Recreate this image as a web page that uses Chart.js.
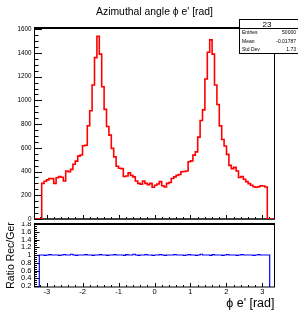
<!DOCTYPE html>
<html>
<head>
<meta charset="utf-8">
<script src="https://cdn.jsdelivr.net/npm/chart.js@4.4.1/dist/chart.umd.min.js"></script>
<style>
  html, body { margin: 0; padding: 0; background: #fff; }
  body { width: 298px; height: 311px; position: relative; overflow: hidden; font-family: 'Liberation Sans', Arial, sans-serif; }
  #ratioPad { position: absolute; left: 0; top: 222px; }
  #topPad { position: absolute; left: 0; top: 0; }
  #stats { position: absolute; left: 239px; top: 19px; width: 66px; height: 35px; box-sizing: border-box;
           border: 1px solid #000; background: #fff; color: #000; will-change: transform; }
  #stats .hdr { position: absolute; left: 0; top: 0; width: 54px; height: 8px; line-height: 9px; font-size: 8px; text-align: center; color: #000; }
  #stats .sep { position: absolute; left: 0; right: 0; top: 8px; border-top: 1px solid #000; }
  #stats .row { position: absolute; left: 2px; width: 54px; height: 7px; line-height: 7px; font-size: 5px; color: #000; }
  #stats .row span { position: absolute; left: 0; }
  #stats .row b { position: absolute; right: 0; font-weight: normal; }
</style>
</head>
<body>
<canvas id="ratioPad" width="298" height="89"></canvas>
<canvas id="topPad" width="298" height="222"></canvas>
<div id="stats">
  <div class="hdr">23</div>
  <div class="sep"></div>
  <div class="row" style="top:9px"><span>Entries</span><b>50000</b></div>
  <div class="row" style="top:17.5px"><span>Mean</span><b>-0.01787</b></div>
  <div class="row" style="top:25.5px"><span>Std Dev</span><b>1.73</b></div>
</div>
<script>
// histogram definition: 100 bins from -pi-0.2 to pi+0.2
const nBins = 100;
const xLow = -Math.PI - 0.2;
const xHigh = Math.PI + 0.2;

// phi e' counts, bins 3..96
const countsFirstBin = 3;
const counts = [
  300, 318, 330, 342, 340, 300, 348, 358, 352, 320,
  405, 398, 418, 462, 488, 530, 540, 618, 622, 786,
  912, 1129, 1360, 1540, 1390, 1115, 924, 780, 707, 595,
  524, 445, 428, 425, 358, 362, 389, 368, 355, 320,
  300, 294, 320, 300, 290, 300, 268, 285, 295, 315,
  280, 270, 300, 308, 341, 355, 368, 375, 398, 400,
  405, 482, 490, 538, 566, 690, 830, 920, 1180, 1405,
  1510, 1390, 1130, 965, 785, 670, 615, 545, 452, 425,
  435, 405, 350, 358, 335, 315, 298, 285, 272, 268,
  272, 280, 278, 270
];

// Rec/Ger ratio, bins 2..97
const ratioFirstBin = 2;
const ratio = [
  1.00, 1.00, 0.99, 1.00, 1.01, 1.00, 1.00, 1.00, 0.99, 1.00,
  1.01, 1.00, 1.00, 1.02, 1.00, 0.99, 1.00, 1.00, 1.00, 1.01,
  1.00, 1.00, 0.99, 1.00, 1.00, 1.01, 1.00, 1.00, 0.99, 1.00,
  1.00, 1.01, 1.00, 1.00, 1.00, 0.99, 1.01, 1.00, 1.00, 1.02,
  1.00, 0.99, 1.00, 1.00, 1.01, 1.00, 1.00, 0.99, 1.00, 1.00,
  1.01, 1.00, 0.99, 1.00, 1.00, 1.00, 1.01, 1.00, 1.00, 1.00,
  0.99, 1.00, 1.01, 1.00, 1.00, 0.99, 1.00, 1.02, 1.00, 1.00,
  1.00, 0.99, 1.01, 1.00, 1.00, 1.00, 0.99, 1.00, 1.01, 1.00,
  1.00, 1.00, 0.99, 1.00, 1.01, 1.00, 1.00, 1.00, 1.00, 0.99,
  1.00, 1.01, 1.00, 1.00, 1.00, 1.00
];

// tick labels
const xTicks = [-3, -2, -1, 0, 1, 2, 3];
const countTicks = [0, 200, 400, 600, 800, 1000, 1200, 1400, 1600];
const ratioTicks = [0.2, 0.4, 0.6, 0.8, 1, 1.2, 1.4, 1.6, 1.8];

const font = "'Liberation Sans', Arial, sans-serif";
Chart.defaults.font.family = font;
Chart.defaults.color = '#000';

const binW = (xHigh - xLow) / nBins;
const edge = k => xLow + k * binW;

// step outline like ROOT: zero outside the filled bins
function histPoints(values, first) {
  const pts = [{ x: xLow, y: 0 }];
  values.forEach((v, i) => pts.push({ x: edge(first + i), y: v }));
  pts.push({ x: edge(first + values.length), y: 0 });
  pts.push({ x: xHigh, y: 0 });
  return pts;
}

const useTicks = list => s => { s.ticks = list.map(v => ({ value: v })); };

// frame + inward ticks, drawn before the histogram
const rootFrame = {
  id: 'rootFrame',
  beforeDatasetsDraw(chart, args, o) {
    const { ctx, chartArea: a } = chart;
    const xs = chart.scales.x, ys = chart.scales.y;
    ctx.save();
    ctx.strokeStyle = '#000';
    ctx.lineWidth = 1;
    ctx.beginPath();
    for (let i = Math.ceil(xs.min / o.xMinor - 1e-9); i * o.xMinor <= xs.max + 1e-9; i++) {
      const v = i * o.xMinor;
      const major = Math.abs(v / o.xMajor - Math.round(v / o.xMajor)) < 1e-6;
      const px = Math.round(xs.getPixelForValue(v)) + 0.5;
      ctx.moveTo(px, a.bottom);
      ctx.lineTo(px, a.bottom - (major ? o.xLen[0] : o.xLen[1]));
    }
    for (let i = Math.ceil(ys.min / o.yMinor - 1e-9); i * o.yMinor <= ys.max + 1e-9; i++) {
      const v = i * o.yMinor;
      const major = Math.abs(v / o.yMajor - Math.round(v / o.yMajor)) < 1e-6;
      const py = Math.round(ys.getPixelForValue(v)) + 0.5;
      ctx.moveTo(a.left, py);
      ctx.lineTo(a.left + (major ? o.yLen[0] : o.yLen[1]), py);
    }
    ctx.stroke();

    ctx.beginPath();
    ctx.moveTo(a.left, a.top);
    ctx.lineTo(a.left, a.bottom);
    ctx.moveTo(a.right, a.top);
    ctx.lineTo(a.right, a.bottom);
    ctx.stroke();
    ctx.lineWidth = o.topW;
    ctx.beginPath();
    ctx.moveTo(a.left - 0.5, a.top);
    ctx.lineTo(a.right + 0.5, a.top);
    ctx.stroke();
    ctx.lineWidth = o.bottomW;
    ctx.beginPath();
    ctx.moveTo(a.left - 0.5, a.bottom);
    ctx.lineTo(a.right + 0.5, a.bottom);
    ctx.stroke();
    ctx.restore();
  }
};

const yWidth = 34.5;
const rightPad = 298 - 274.5;

const topChart = new Chart('topPad', {
  type: 'line',
  data: {
    datasets: [{
      data: histPoints(counts, countsFirstBin),
      borderColor: 'rgb(255, 0, 0)',
      borderWidth: 1.6,
      pointRadius: 0,
      stepped: true,
      fill: false
    }]
  },
  options: {
    responsive: false,
    animation: false,
    layout: { autoPadding: false, padding: { left: 0, right: rightPad, top: 2, bottom: 3 } },
    plugins: {
      legend: { display: false },
      tooltip: { enabled: false },
      title: {
        display: true,
        text: "Azimuthal angle \u03d5 e' [rad]",
        fullSize: false,
        color: '#000',
        font: { family: font, size: 10.4, weight: 'normal' },
        padding: { top: 3.5, bottom: 9.9 }
      },
      rootFrame: { xMinor: 0.2, xMajor: 1, yMinor: 50, yMajor: 200, xLen: [4, 2], yLen: [7.5, 4], topW: 2, bottomW: 1.5 }
    },
    scales: {
      x: {
        type: 'linear', min: xLow, max: xHigh,
        grid: { display: false, drawTicks: false },
        border: { display: false },
        ticks: { display: false },
        afterBuildTicks: useTicks(xTicks),
        afterFit: s => { s.height = 0; s.paddingLeft = 0; s.paddingRight = 0; }
      },
      y: {
        min: 0, max: 1611,
        grid: { display: false, drawTicks: false },
        border: { display: false },
        ticks: { autoSkip: false, padding: 3, font: { size: 6.3 }, callback: v => String(v) },
        afterBuildTicks: useTicks(countTicks),
        afterFit: s => { s.width = yWidth; s.paddingTop = 0; s.paddingBottom = 0; }
      }
    }
  },
  plugins: [rootFrame]
});

const ratioChart = new Chart('ratioPad', {
  type: 'line',
  data: {
    datasets: [{
      data: histPoints(ratio, ratioFirstBin),
      borderColor: 'rgb(0, 0, 255)',
      borderWidth: 1.2,
      pointRadius: 0,
      stepped: true,
      fill: false
    }]
  },
  options: {
    responsive: false,
    animation: false,
    layout: { autoPadding: false, padding: { left: 0, right: rightPad, top: 2, bottom: 0 } },
    plugins: {
      legend: { display: false },
      tooltip: { enabled: false },
      rootFrame: { xMinor: 0.2, xMajor: 1, yMinor: 0.05, yMajor: 0.2, xLen: [4, 2], yLen: [5, 2.5], topW: 2, bottomW: 1 }
    },
    scales: {
      x: {
        type: 'linear', min: xLow, max: xHigh,
        grid: { display: false, drawTicks: false },
        border: { display: false },
        ticks: { autoSkip: false, padding: 0, font: { size: 7.5 }, callback: v => String(v) },
        afterBuildTicks: useTicks(xTicks),
        title: { display: true, text: "\u03d5 e' [rad]", align: 'end', font: { size: 12.5 }, padding: 0 },
        afterFit: s => { s.height = 24; s.paddingLeft = 0; s.paddingRight = 0; }
      },
      y: {
        min: 0.175, max: 1.8,
        grid: { display: false, drawTicks: false },
        border: { display: false },
        ticks: { autoSkip: false, padding: 3, font: { size: 7.5 }, callback: v => String(+v.toFixed(2)) },
        afterBuildTicks: useTicks(ratioTicks),
        title: { display: true, text: 'Ratio Rec/Ger', font: { size: 10.5 }, padding: { top: 5, bottom: 0 } },
        afterFit: s => { s.width = yWidth; s.paddingTop = 0; s.paddingBottom = 0; }
      }
    }
  },
  plugins: [rootFrame]
});
</script>
</body>
</html>
